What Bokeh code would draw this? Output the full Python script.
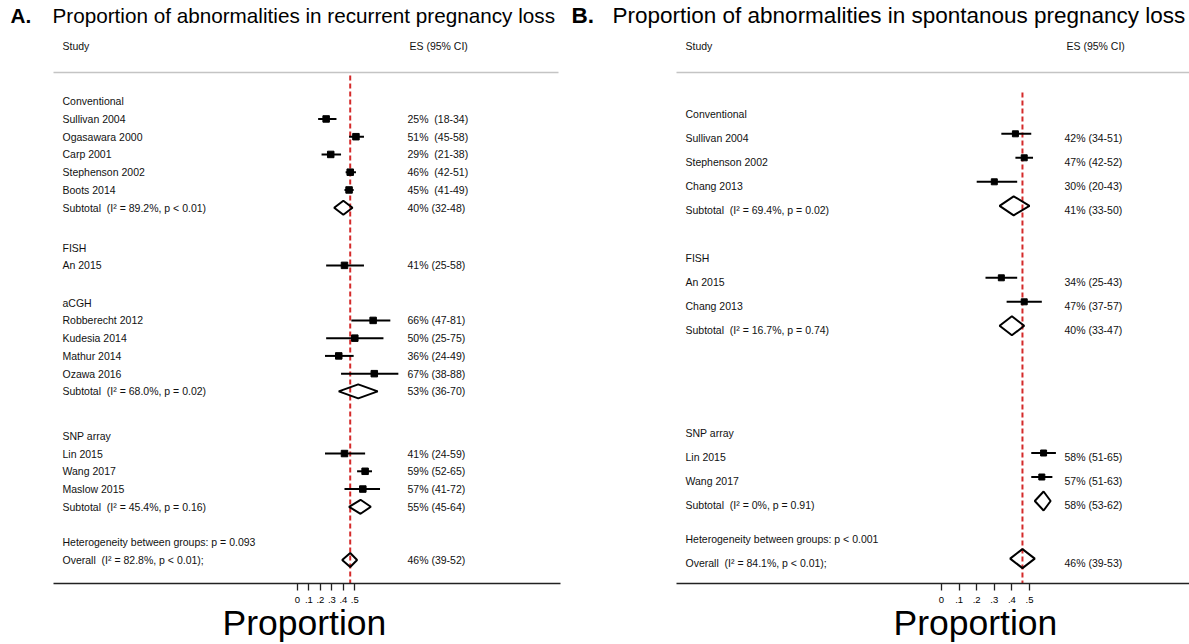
from bokeh.plotting import figure
from bokeh.layouts import row
from bokeh.models import Range1d, FixedTicker, CustomJSTickFormatter, Title
from bokeh.core.properties import value
from bokeh.embed import file_html
from bokeh.resources import INLINE

FONT = "Liberation Sans"

# ------------------------- data: panel A -------------------------
A_title = "Proportion of abnormalities in recurrent pregnancy loss"
A_group_names = ["Conventional", "FISH", "aCGH", "SNP array"]

A_conv_study = ["Sullivan 2004", "Ogasawara 2000", "Carp 2001", "Stephenson 2002", "Boots 2014"]
A_conv_es = [0.25, 0.51, 0.29, 0.46, 0.45]
A_conv_lo = [0.18, 0.45, 0.21, 0.42, 0.41]
A_conv_hi = [0.34, 0.58, 0.38, 0.51, 0.49]

A_fish_study = ["An 2015"]
A_fish_es = [0.41]
A_fish_lo = [0.25]
A_fish_hi = [0.58]

A_acgh_study = ["Robberecht 2012", "Kudesia 2014", "Mathur 2014", "Ozawa 2016"]
A_acgh_es = [0.66, 0.50, 0.36, 0.67]
A_acgh_lo = [0.47, 0.25, 0.24, 0.38]
A_acgh_hi = [0.81, 0.75, 0.49, 0.88]

A_snp_study = ["Lin 2015", "Wang 2017", "Maslow 2015"]
A_snp_es = [0.41, 0.59, 0.57]
A_snp_lo = [0.24, 0.52, 0.41]
A_snp_hi = [0.59, 0.65, 0.72]

# subtotals (None = no subtotal row)
A_sub_es = [0.40, None, 0.53, 0.55]
A_sub_lo = [0.32, None, 0.36, 0.45]
A_sub_hi = [0.48, None, 0.70, 0.64]
A_sub_i2 = ["89.2%", None, "68.0%", "45.4%"]
A_sub_p = ["p < 0.01", None, "p = 0.02", "p = 0.16"]

A_overall_es, A_overall_lo, A_overall_hi = 0.46, 0.39, 0.52
A_overall_i2, A_overall_p = "82.8%", "p < 0.01"
A_het_p = "p = 0.093"

# ------------------------- data: panel B -------------------------
B_title = "Proportion of abnormalities in spontanous pregnancy loss"
B_group_names = ["Conventional", "FISH", "SNP array"]

B_conv_study = ["Sullivan 2004", "Stephenson 2002", "Chang 2013"]
B_conv_es = [0.42, 0.47, 0.30]
B_conv_lo = [0.34, 0.42, 0.20]
B_conv_hi = [0.51, 0.52, 0.43]

B_fish_study = ["An 2015", "Chang 2013"]
B_fish_es = [0.34, 0.47]
B_fish_lo = [0.25, 0.37]
B_fish_hi = [0.43, 0.57]

B_snp_study = ["Lin 2015", "Wang 2017"]
B_snp_es = [0.58, 0.57]
B_snp_lo = [0.51, 0.51]
B_snp_hi = [0.65, 0.63]

B_sub_es = [0.41, 0.40, 0.58]
B_sub_lo = [0.33, 0.33, 0.53]
B_sub_hi = [0.50, 0.47, 0.62]
B_sub_i2 = ["69.4%", "16.7%", "0%"]
B_sub_p = ["p = 0.02", "p = 0.74", "p = 0.91"]

B_overall_es, B_overall_lo, B_overall_hi = 0.46, 0.39, 0.53
B_overall_i2, B_overall_p = "84.1%", "p < 0.01"
B_het_p = "p < 0.001"

tick_values = [0, 0.1, 0.2, 0.3, 0.4, 0.5]
tick_labels = ["0", ".1", ".2", ".3", ".4", ".5"]
x_label = "Proportion"

NB = "\u00a0"


def pct(v):
    return str(int(round(v * 100)))


def ci_text(es, lo, hi, sep=" "):
    return f"{pct(es)}%{sep}({pct(lo)}-{pct(hi)})"


def build_panel(letter, title, names, studies, sub, overall, het_p, L):
    # L: layout dict (page pixel geometry)
    zero, ppu = L["zero_px"], L["ppu"]

    def px(v):  # page-x pixel -> data x
        return (v - zero) / ppu

    FRAME_TOP, FRAME_BOTTOM = 0, 583
    p = figure(frame_width=L["fw"], frame_height=FRAME_BOTTOM - FRAME_TOP,
               x_range=Range1d(px(L["left"]), px(L["left"] + L["fw"])),
               y_range=Range1d(FRAME_BOTTOM, FRAME_TOP),
               output_backend="svg", toolbar_location=None,
               y_axis_location=None, x_axis_location="below",
               min_border_left=0, min_border_right=0, min_border_top=0, min_border_bottom=0,
               outline_line_color=None, background_fill_color="white",
               border_fill_color="white")
    p.grid.visible = False

    # row layout
    slot = 0.0
    lab_x, lab_y, lab_t = [], [], []
    es_x, es_y, es_t = [], [], []
    st_es, st_lo, st_hi, st_y = [], [], [], []
    dxs, dys = [], []
    step, y0, dy, h = L["step"], L["y0"], L["mark_dy"], L["dia_h"]

    def ypos(s):
        return y0 + s * step

    def diamond(es, lo, hi, y):
        dxs.append([lo, es, hi, es])
        dys.append([y, y - h, y, y + h])

    for gi, name in enumerate(names):
        if gi > 0:
            slot += L["gaps"][gi - 1]
        lab_x.append(px(L["lab_px"])); lab_y.append(ypos(slot)); lab_t.append(name)
        s_names, s_es, s_lo, s_hi = studies[gi]
        for j in range(len(s_names)):
            slot += 1
            y = ypos(slot)
            lab_x.append(px(L["lab_px"])); lab_y.append(y); lab_t.append(s_names[j])
            es_x.append(px(L["es_px"])); es_y.append(y)
            es_t.append(ci_text(s_es[j], s_lo[j], s_hi[j], L["seps"][gi]))
            st_es.append(s_es[j]); st_lo.append(s_lo[j]); st_hi.append(s_hi[j]); st_y.append(y + dy)
        ses, slo, shi, si2, sp = (sub[0][gi], sub[1][gi], sub[2][gi], sub[3][gi], sub[4][gi])
        if ses is not None:
            slot += 1
            y = ypos(slot)
            lab_x.append(px(L["lab_px"])); lab_y.append(y)
            lab_t.append(f"Subtotal{NB} (I\u00b2 = {si2}, {sp})")
            es_x.append(px(L["es_px"])); es_y.append(y); es_t.append(ci_text(ses, slo, shi))
            diamond(ses, slo, shi, y + dy)

    slot += L["het_gap"]
    lab_x.append(px(L["lab_px"])); lab_y.append(ypos(slot))
    lab_t.append(f"Heterogeneity between groups: {het_p}")
    slot += 1
    y = ypos(slot)
    o_es, o_lo, o_hi, o_i2, o_p = overall
    lab_x.append(px(L["lab_px"])); lab_y.append(y)
    lab_t.append(f"Overall{NB} (I\u00b2 = {o_i2}, {o_p});")
    es_x.append(px(L["es_px"])); es_y.append(y); es_t.append(ci_text(o_es, o_lo, o_hi))
    diamond(o_es, o_lo, o_hi, y + dy)

    # header
    hdr = dict(text_font=value(FONT), text_font_size="10.5px", text_baseline="middle",
               text_align="left", text_color="#111111")
    p.text(x=[px(L["lab_px"]), px(L["es_px"] + 2)], y=[L["hdr_y"], L["hdr_y"]],
           text=["Study", "ES (95% CI)"], **hdr)
    p.segment(x0=[px(L["box_l"])], x1=[px(L["box_r"])], y0=[L["rule_y"]], y1=[L["rule_y"]],
              line_color="#c4c4c4", line_width=1.6)

    # titles
    p.text(x=[px(L["letter_px"])], y=[L["title_y"]], text=[letter], text_font=value(FONT),
           text_font_size=L["title_size"], text_font_style="bold", text_baseline="middle",
           text_align="left", text_color="black")
    p.text(x=[px(L["title_px"])], y=[L["title_y"]], text=[title], text_font=value(FONT),
           text_font_size=L["title_size"], text_baseline="middle", text_align="left",
           text_color="black")

    # reference line at overall estimate
    p.segment(x0=[o_es], x1=[o_es], y0=[L["ref_top"]], y1=[FRAME_BOTTOM],
              line_color="#d42a2a", line_width=2, line_dash="5 3")

    # study CIs and squares
    p.segment(x0=st_lo, x1=st_hi, y0=st_y, y1=st_y, line_color="black", line_width=2)
    p.scatter(x=st_es, y=st_y, marker="square", size=L["sq"], color="black")
    p.patches(xs=dxs, ys=dys, fill_color=None, line_color="black", line_width=2)

    p.text(x=lab_x, y=lab_y, text=lab_t, **hdr)
    p.text(x=es_x, y=es_y, text=es_t, **hdr)

    ax = p.xaxis[0]
    ax.ticker = FixedTicker(ticks=tick_values)
    ax.formatter = CustomJSTickFormatter(args=dict(tvals=tick_values, tlabs=tick_labels), code="""
        let best = 0;
        for (let i = 0; i < tvals.length; i++) {
            if (Math.abs(tvals[i] - tick) < Math.abs(tvals[best] - tick)) best = i;
        }
        return tlabs[best];
    """)
    ax.bounds = (px(L["box_l"]), px(L["axis_r"]))
    ax.axis_line_width = 1.6
    ax.axis_line_color = "#222222"
    ax.major_tick_out = 7
    ax.major_tick_in = 0
    ax.minor_tick_out = 0
    ax.minor_tick_in = 0
    ax.major_tick_line_width = 1.3
    ax.major_tick_line_color = "#222222"
    ax.major_label_standoff = 6
    ax.major_label_text_font = FONT
    ax.major_label_text_font_size = "9.5px"
    ax.major_label_text_color = "black"

    xt = Title(text=x_label, align="left", offset=L["xlab_px"] - L["left"],
               vertical_align="top",
               text_font=FONT, text_font_size="35.5px", text_font_style="normal",
               text_color="black", standoff=-5)
    p.add_layout(xt, "below")
    return p


LA = dict(left=0, fw=565, zero_px=297, ppu=114.6, step=17.75, y0=100.7, mark_dy=0,
          dia_h=7, sq=6.5, gaps=[2.25, 2.1, 2.5], het_gap=2.0,
          seps=[NB + " ", " ", " ", " "],
          lab_px=62, es_px=407, hdr_y=45, rule_y=72, box_l=53, box_r=558, axis_r=560,
          letter_px=10, title_px=52, title_y=15, title_size="20.7px", ref_top=75,
          xlab_px=222)
LB = dict(left=565, fw=624, zero_px=941, ppu=176, step=24, y0=113.3, mark_dy=-4,
          dia_h=9.5, sq=6, gaps=[2.0, 4.3], het_gap=1.4,
          seps=[" ", " ", " "],
          lab_px=685, es_px=1064, hdr_y=45, rule_y=72, box_l=676, box_r=1200, axis_r=1270,
          letter_px=571, title_px=612, title_y=15, title_size="22.5px", ref_top=92,
          xlab_px=893)

pA = build_panel("A.", A_title, A_group_names,
                 [(A_conv_study, A_conv_es, A_conv_lo, A_conv_hi),
                  (A_fish_study, A_fish_es, A_fish_lo, A_fish_hi),
                  (A_acgh_study, A_acgh_es, A_acgh_lo, A_acgh_hi),
                  (A_snp_study, A_snp_es, A_snp_lo, A_snp_hi)],
                 (A_sub_es, A_sub_lo, A_sub_hi, A_sub_i2, A_sub_p),
                 (A_overall_es, A_overall_lo, A_overall_hi, A_overall_i2, A_overall_p),
                 A_het_p, LA)
pB = build_panel("B.", B_title, B_group_names,
                 [(B_conv_study, B_conv_es, B_conv_lo, B_conv_hi),
                  (B_fish_study, B_fish_es, B_fish_lo, B_fish_hi),
                  (B_snp_study, B_snp_es, B_snp_lo, B_snp_hi)],
                 (B_sub_es, B_sub_lo, B_sub_hi, B_sub_i2, B_sub_p),
                 (B_overall_es, B_overall_lo, B_overall_hi, B_overall_i2, B_overall_p),
                 B_het_p, LB)

layout = row(pA, pB)
open("out.html", "w").write(file_html(layout, INLINE))
